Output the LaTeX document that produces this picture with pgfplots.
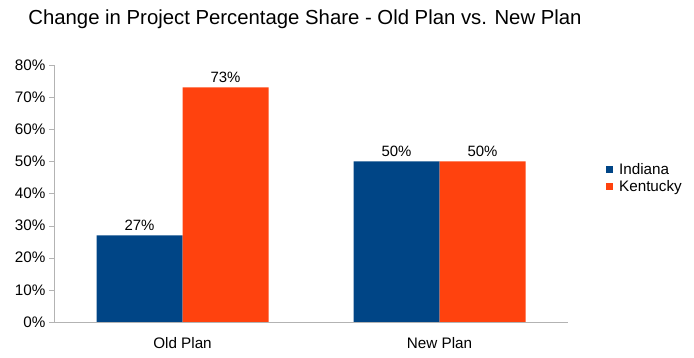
\documentclass[border=0pt]{standalone}
\usepackage{pgfplots}
\pgfplotsset{compat=1.18}
\usepackage{fontspec}
\setmainfont{Liberation Sans}
\definecolor{ind}{HTML}{004586}
\definecolor{ken}{HTML}{FF420E}
\definecolor{axg}{HTML}{B3B3B3}
\begin{document}
\begin{tikzpicture}
\path[use as bounding box] (0,0) rectangle (694bp,358bp);
\node[font=\fontsize{20.4}{23}\selectfont] at (305bp,339bp) {Change in Project Percentage Share - Old Plan vs. New Plan};
\begin{axis}[
  at={(54bp,36bp)}, anchor=south west,
  scale only axis, width=514bp, height=257bp,
  xmin=-0.5, xmax=1.5, ymin=0, ymax=80,
  axis x line=bottom, axis y line=left,
  axis line style={-, draw=axg},
  ybar=0pt, bar width=86bp,
  xtick={0,1}, xticklabels={Old Plan, New Plan},
  x tick style={draw=none},
  extra x ticks={-0.5,0.5,1.5}, extra x tick labels={},
  extra x tick style={major tick length=8bp, tick align=outside, tick style={draw=axg}},
  ytick={0,10,...,80},
  yticklabel={\pgfmathprintnumber{\tick}\%},
  y tick style={draw=axg}, major tick length=5bp, tick align=outside,
  ticklabel style={font=\fontsize{15.3}{18}\selectfont},
  /pgf/number format/assume math mode=true,
  xticklabel style={yshift=-7bp},
  nodes near coords={\pgfmathprintnumber{\pgfplotspointmeta}\%},
  nodes near coords style={font=\fontsize{15}{18}\selectfont, black, yshift=1bp},
  legend cell align=left,
  legend style={at={(1.068,0.56)}, anchor=west, draw=none, font=\fontsize{15.3}{16}\selectfont, row sep=0bp,
    /tikz/every odd column/.append style={column sep=4bp}},
  legend image code/.code={\fill[#1] (0bp,-3.5bp) rectangle (7bp,3.5bp);},
]
\addplot[fill=ind, draw=none] coordinates {(0,27) (1,50)};
\addplot[fill=ken, draw=none] coordinates {(0,73) (1,50)};
\legend{Indiana, Kentucky}
\end{axis}
\end{tikzpicture}
\end{document}
